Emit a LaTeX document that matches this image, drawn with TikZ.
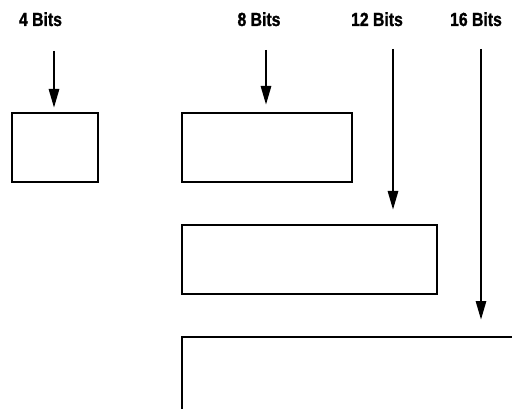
\documentclass[tikz,border=0pt]{standalone}
\usepackage{fontspec}
\setmainfont{Liberation Sans}[FakeStretch=0.83,BoldFeatures={FakeBold=1.2}]
\usetikzlibrary{arrows.meta}
\begin{document}
\begin{tikzpicture}[x=1pt,y=-1pt,
  reg/.style={draw,line width=1.7pt,minimum width=#1,inner sep=0pt,anchor=north west},
  lbl/.style={font=\fontsize{19}{21}\selectfont\bfseries,anchor=base,inner sep=0pt},
  feed/.style={line width=2.8pt,-{Triangle[length=19pt,width=10pt]}}]
  \useasboundingbox (0,0) rectangle (512,409);
  \clip (0,0) rectangle (512,409);
  % word widths
  \node[lbl] (l4)  at (40.5,26) {4 Bits};
  \node[lbl] (l8)  at (259,26)  {8 Bits};
  \node[lbl] (l12) at (377,26)  {12 Bits};
  \node[lbl] (l16) at (476,26)  {16 Bits};
  % registers
  \node[reg=86pt,minimum height=69pt]  (b4)  at (11,112)  {};
  \node[reg=170pt,minimum height=69pt] (b8)  at (181,112) {};
  \node[reg=255pt,minimum height=69pt] (b12) at (181,224) {};
  \node[reg=400pt,minimum height=120pt] (b16) at (181,336) {};
  % feeds
  \coordinate (s4)  at (54,51);
  \coordinate (s8)  at (266,50);
  \coordinate (s12) at (393,49);
  \coordinate (s16) at (481,49);
  \draw[feed,shorten >=4pt]  (s4)  -- (s4 |- b4.north);
  \draw[feed,shorten >=7pt]  (s8)  -- (s8 |- b8.north);
  \draw[feed,shorten >=14pt] (s12) -- (s12 |- b12.north);
  \draw[feed,shorten >=16pt] (s16) -- (s16 |- b16.north);
\end{tikzpicture}
\end{document}
